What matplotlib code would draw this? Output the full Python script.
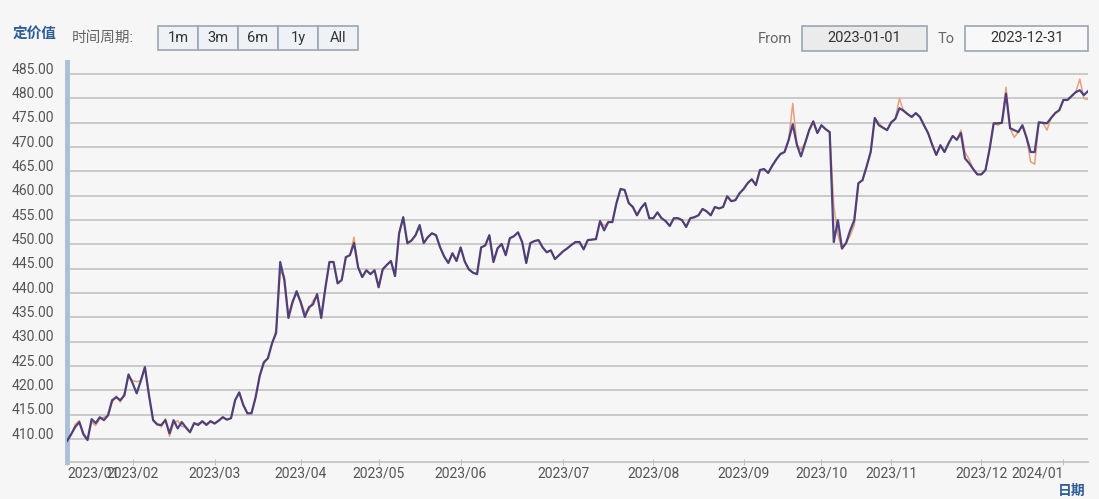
import matplotlib
matplotlib.use('agg')
import matplotlib.pyplot as plt
from matplotlib.patches import Rectangle
from matplotlib.transforms import ScaledTranslation

plt.rcParams['font.family'] = ['Roboto', 'Noto Sans CJK SC', 'DejaVu Sans']

# trading-day index of each month start and the labels shown
month_idx = [0, 16, 36, 57, 76, 96, 121, 143, 165, 184, 201, 223, 243]
month_labels = ['2023/01', '2023/02', '2023/03', '2023/04', '2023/05', '2023/06',
                '2023/07', '2023/08', '2023/09', '2023/10', '2023/11', '2023/12', '2024/01']

# main (dark) price line, one value per trading day
price_main = [
    409.6, 411.0, 412.5, 413.5, 411.0, 409.8, 414.1, 413.3, 414.5, 413.9,
    414.9, 418.0, 418.6, 418.0, 419.0, 423.3, 421.5, 419.4, 422.0, 424.8,
    419.0, 413.9, 413.0, 412.9, 413.9, 411.2, 413.9, 412.2, 413.5, 412.4,
    411.4, 413.3, 412.9, 413.7, 412.9, 413.7, 413.2, 413.8, 414.5, 414.0,
    414.3, 418.0, 419.6, 417.0, 415.3, 415.3, 418.6, 423.0, 425.8, 426.6,
    429.7, 431.8, 446.4, 442.7, 434.9, 438.1, 440.4, 438.1, 435.1, 437.1,
    437.7, 439.8, 434.9, 441.0, 446.4, 446.4, 442.0, 442.7, 447.4, 447.8,
    450.3, 445.3, 443.3, 444.7, 443.9, 444.7, 441.2, 444.9, 445.8, 446.6,
    443.5, 452.3, 455.6, 450.3, 450.8, 451.9, 454.0, 450.3, 451.5, 452.3,
    451.9, 449.4, 447.5, 446.2, 448.2, 446.6, 449.4, 446.5, 444.9, 444.2,
    443.9, 449.4, 449.8, 451.9, 446.4, 449.2, 450.1, 447.8, 451.3, 451.7,
    452.5, 450.5, 446.2, 450.3, 450.7, 450.9, 449.4, 448.4, 448.8, 447.0,
    447.8, 448.6, 449.2, 449.9, 450.5, 450.5, 449.0, 450.9, 451.0, 451.1,
    454.8, 452.9, 454.6, 454.6, 458.5, 461.4, 461.2, 458.5, 457.7, 456.0,
    457.5, 458.5, 455.4, 455.4, 456.6, 455.4, 454.8, 453.8, 455.4, 455.4,
    455.0, 453.6, 455.4, 455.6, 456.0, 457.3, 456.8, 456.0, 457.7, 457.4,
    457.7, 459.9, 458.9, 459.1, 460.5, 461.4, 462.6, 463.4, 462.2, 465.3,
    465.5, 464.7, 466.2, 467.5, 468.6, 469.0, 471.5, 474.7, 470.5, 468.1,
    470.8, 473.5, 475.3, 472.9, 474.5, 473.7, 473.1, 450.5, 455.0, 449.2,
    450.3, 452.9, 455.0, 462.6, 463.2, 466.0, 469.0, 476.0, 474.5, 474.0,
    473.5, 475.1, 475.8, 478.0, 477.5, 476.8, 476.2, 477.0, 476.2, 474.5,
    472.9, 470.5, 468.4, 470.4, 469.0, 470.8, 472.3, 471.5, 472.9, 467.7,
    466.7, 465.5, 464.4, 464.4, 465.3, 469.6, 474.9, 474.9, 475.0, 481.0,
    473.9, 473.5, 473.1, 474.5, 472.0, 469.0, 469.0, 475.1, 475.0, 474.9,
    476.0, 477.0, 477.6, 479.7, 479.7, 480.5, 481.3, 481.7, 480.7, 481.5,
]

# second (light) line, mostly on top of the main one
price_alt = [
    409.6, 410.8, 413.0, 413.8, 411.2, 410.0, 413.5, 412.8, 414.2, 414.5,
    414.8, 417.5, 418.9, 417.6, 419.5, 423.0, 422.0, 421.8, 422.0, 424.8,
    419.0, 413.9, 413.2, 412.5, 414.2, 410.6, 413.2, 413.8, 412.6, 412.4,
    411.6, 413.0, 413.3, 413.4, 413.2, 413.5, 413.2, 413.8, 414.6, 414.0,
    414.3, 418.0, 419.6, 417.0, 415.3, 415.5, 418.6, 423.0, 425.4, 426.8,
    429.5, 432.5, 444.5, 443.5, 435.5, 438.5, 439.8, 438.4, 436.0, 436.5,
    438.5, 439.5, 435.5, 441.0, 446.4, 446.4, 442.0, 442.7, 447.4, 447.8,
    451.5, 445.3, 443.3, 444.7, 443.9, 444.7, 441.2, 444.9, 445.8, 446.6,
    443.5, 452.3, 455.6, 450.0, 450.8, 451.9, 453.5, 450.3, 451.5, 452.3,
    451.9, 449.4, 447.5, 446.2, 448.2, 446.6, 449.4, 446.5, 444.9, 444.2,
    443.9, 449.4, 449.8, 451.9, 446.4, 449.2, 450.1, 447.8, 451.3, 451.7,
    452.5, 450.5, 446.2, 450.3, 450.7, 450.9, 449.4, 448.4, 448.8, 447.0,
    447.8, 448.6, 449.2, 449.9, 450.5, 450.5, 449.0, 450.9, 451.0, 451.1,
    454.8, 453.8, 454.6, 454.6, 458.5, 461.4, 461.2, 458.5, 457.7, 456.0,
    457.5, 458.5, 455.4, 455.4, 456.6, 455.4, 454.8, 453.8, 455.4, 455.4,
    455.0, 453.6, 455.4, 455.6, 456.0, 457.3, 456.8, 456.0, 457.7, 457.4,
    457.7, 459.9, 458.9, 459.1, 460.5, 461.4, 462.6, 463.4, 462.2, 465.3,
    465.5, 464.7, 466.2, 467.5, 468.6, 469.0, 471.5, 479.0, 470.5, 469.5,
    470.8, 473.5, 475.3, 472.9, 474.5, 473.7, 473.1, 458.0, 452.0, 449.0,
    450.3, 451.8, 454.0, 462.6, 463.2, 466.0, 469.0, 476.0, 475.0, 474.0,
    473.5, 475.1, 475.8, 480.0, 477.5, 476.8, 476.2, 477.0, 476.2, 474.5,
    472.9, 470.5, 468.4, 470.4, 469.0, 470.8, 472.3, 471.5, 473.5, 469.0,
    467.5, 465.5, 464.4, 464.4, 465.3, 469.6, 474.9, 474.5, 475.0, 482.3,
    473.9, 472.0, 473.1, 474.5, 472.0, 467.0, 466.5, 475.1, 475.0, 473.5,
    476.0, 477.0, 477.6, 479.7, 479.7, 480.5, 481.3, 484.0, 480.0, 479.8,
]

y_ticks = list(range(410, 486, 5))

bg = '#f6f6f6'
fig = plt.figure(figsize=(10.99, 4.99), dpi=100, facecolor=bg)
ax = fig.add_axes([67 / 1099, 37 / 499, 1021 / 1099, 400 / 499], facecolor=bg)

days = list(range(len(price_main)))
ax.plot(days, price_alt, color='#e8a07c', lw=1.1, zorder=3)
ax.plot(days, price_main, color='#3f3274', lw=1.6, alpha=0.9, zorder=4)

ax.set_xlim(0, len(price_main) - 1)
ax.set_ylim(405.3, 487.5)

ax.set_yticks(y_ticks)
ax.set_yticklabels(['%.2f' % v for v in y_ticks])
ax.grid(True, axis='y', color='#c9c9c9', lw=1.4)
ax.set_axisbelow(True)

ax.set_xticks(month_idx)
ax.set_xticklabels(month_labels)
labels = ax.get_xticklabels()
labels[0].set_horizontalalignment('left')
labels[-1].set_horizontalalignment('right')

ax.tick_params(axis='y', length=0, pad=9, labelsize=10, labelcolor='#555555')
ax.tick_params(axis='x', length=5, direction='inout', color='#c0c0c0',
               pad=1, labelsize=10, labelcolor='#555555')

# y labels sit a little above their grid lines in the reference
shift = ScaledTranslation(0, 6 / 100, fig.dpi_scale_trans)
for lab in ax.get_yticklabels():
    lab.set_transform(lab.get_transform() + shift)

for s in ['top', 'right']:
    ax.spines[s].set_visible(False)
ax.spines['bottom'].set_color('#c0c0c0')
ax.spines['bottom'].set_linewidth(1.2)
ax.spines['left'].set_color('#a9c0d8')
ax.spines['left'].set_linewidth(3.5)


def px(x, y):
    # pixel position (from top-left) to figure fraction
    return x / 1099, 1 - y / 499


def box(x0, y0, x1, y1, fc):
    (fx, fy) = px(x0, y1)
    fig.add_artist(Rectangle((fx, fy), (x1 - x0) / 1099, (y1 - y0) / 499,
                             transform=fig.transFigure, facecolor=fc,
                             edgecolor='#9aa6b2', lw=1.2))


# header
fig.text(*px(13, 34), '定价值', color='#2d5d98', fontsize=10.5, fontweight='bold',
         va='center', ha='left')
fig.text(*px(72, 38), '时间周期:', color='#666666', fontsize=10.5, va='center', ha='left')

buttons = ['1m', '3m', '6m', '1y', 'All']
edges = [158, 198, 238, 278, 318, 358]
for i, b in enumerate(buttons):
    box(edges[i], 26, edges[i + 1], 50, '#eef2f6')
    fig.text(*px((edges[i] + edges[i + 1]) / 2, 38), b, color='#333333',
             fontsize=10.5, va='center', ha='center')

fig.text(*px(758, 39), 'From', color='#666666', fontsize=10.5, va='center', ha='left')
box(802, 26, 927, 51, '#ebebeb')
fig.text(*px(864, 38.5), '2023-01-01', color='#333333', fontsize=10.5, va='center', ha='center')
fig.text(*px(938, 39), 'To', color='#666666', fontsize=10.5, va='center', ha='left')
box(965, 26, 1088, 51, '#f8f8f8')
fig.text(*px(1027, 38.5), '2023-12-31', color='#333333', fontsize=10.5, va='center', ha='center')

fig.text(*px(1086, 491), '日期', color='#2d5d98', fontsize=10, fontweight='bold',
         va='center', ha='right')

fig.savefig('out.png', dpi=100, facecolor=bg)
